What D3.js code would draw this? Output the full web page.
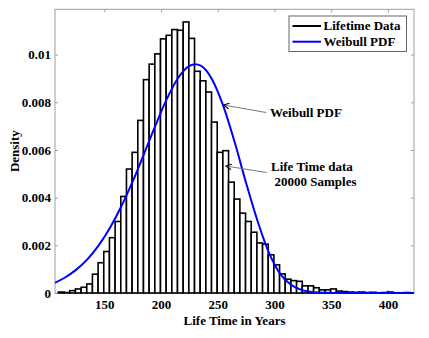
<!DOCTYPE html>
<html lang="en">

<head>
    <meta charset="utf-8">
    <script src="https://d3js.org/d3.v7.min.js"></script>
    <style>
        body { margin: 0; background: white; }
        text { font-family: "Liberation Serif", "Times New Roman", serif; font-weight: bold; }
        .tick text { font-size: 13px; fill: black; }
        .tick line { stroke: #a0a0a0; }
    </style>
</head>

<body>
    <div id="chart"></div>

    <script>
        // histogram bins (centres, width 5 years) and density of each bin
        const binCenters = [
            112, 117, 122, 127, 132, 137, 142, 147, 152, 157,
            162, 167, 172, 177, 182, 187, 192, 197, 202, 207,
            212, 217, 222, 227, 232, 237, 242, 247, 252, 257,
            262, 267, 272, 277, 282, 287, 292, 297, 302, 307,
            312, 317, 322, 327, 332, 337, 342, 347, 352, 357,
            362, 367, 372, 377, 382, 387, 392, 397, 402, 407,
            412, 417
        ];
        const densities = [
            0.00004, 0.00002, 0.00010, 0.00017, 0.00024, 0.00038, 0.00079, 0.00127, 0.00174, 0.00232,
            0.00300, 0.00405, 0.00520, 0.00590, 0.00724, 0.00895, 0.00960, 0.01003, 0.01066, 0.01081,
            0.01105, 0.01102, 0.01137, 0.01068, 0.00930, 0.00890, 0.00843, 0.00717, 0.00590, 0.00597,
            0.00465, 0.00394, 0.00335, 0.00300, 0.00255, 0.00210, 0.00205, 0.00160, 0.00118, 0.00080,
            0.00058, 0.00052, 0.00049, 0.00030, 0.00030, 0.00022, 0.00013, 0.00013, 0.00017, 0.00008,
            0.00006, 0.00004, 0.00003, 0.00004, 0.00002, 0.00003, 0.00001, 0.00002, 0.00004, 0.00001,
            0.00001, 0.00002
        ];
        const binWidth = 5;

        // Weibull PDF curve
        const weibullX = [106.5, 115, 125, 135, 145, 155, 165, 175, 185, 195, 205, 215, 225, 230, 235,
            245, 255, 265, 275, 285, 295, 305, 315, 325, 335, 345, 360, 380, 400, 423];
        const weibullY = [0.00043, 0.00064, 0.00097, 0.00141, 0.00200, 0.00274, 0.00364, 0.00468, 0.00584, 0.00702,
            0.00813, 0.00902, 0.00953, 0.00960, 0.00954, 0.00896, 0.00783, 0.00631, 0.00461, 0.00303,
            0.00170, 0.00080, 0.00033, 0.00011, 0.00003, 0.00001, 0, 0, 0, 0];

        const xTicks = [150, 200, 250, 300, 350, 400];
        const yTicks = [0, 0.002, 0.004, 0.006, 0.008, 0.01];
        const legendLabels = ["Lifetime Data", "Weibull PDF"];

        const W = 429, H = 338;
        const margin = { top: 9.3, right: 15, bottom: 45, left: 55 };
        const plotW = W - margin.left - margin.right,
            plotH = H - margin.top - margin.bottom;

        const svg = d3.select("#chart")
            .append("svg")
            .attr("width", W)
            .attr("height", H);

        const g = svg.append("g")
            .attr("transform", `translate(${margin.left},${margin.top})`);

        const x = d3.scaleLinear().domain([106.5, 423]).range([0, plotW]);
        const y = d3.scaleLinear().domain([0, 0.0119]).range([plotH, 0]);

        g.append("clipPath").attr("id", "clip")
            .append("rect").attr("width", plotW).attr("height", plotH + 2).attr("y", -1);

        // axis box
        g.append("rect")
            .attr("width", plotW)
            .attr("height", plotH)
            .attr("fill", "none")
            .attr("stroke", "#a0a0a0")
            .attr("stroke-width", 1);

        // axes, ticks pointing inward
        const fmt = d3.format("~g");
        g.append("g")
            .attr("transform", `translate(0,${plotH})`)
            .call(d3.axisBottom(x).tickValues(xTicks).tickSizeInner(-3).tickSizeOuter(0).tickPadding(7))
            .call(a => a.select(".domain").remove());
        g.append("g")
            .call(d3.axisTop(x).tickValues(xTicks).tickSizeInner(-3).tickSizeOuter(0).tickFormat(""))
            .call(a => a.select(".domain").remove());
        g.append("g")
            .call(d3.axisLeft(y).tickValues(yTicks).tickSizeInner(-3).tickSizeOuter(0).tickPadding(4).tickFormat(fmt))
            .call(a => a.select(".domain").remove());
        g.append("g")
            .attr("transform", `translate(${plotW},0)`)
            .call(d3.axisRight(y).tickValues(yTicks).tickSizeInner(-3).tickSizeOuter(0).tickFormat(""))
            .call(a => a.select(".domain").remove());

        // histogram bars
        const bins = binCenters.map((c, i) => ({ c: c, d: densities[i] }));
        g.append("g")
            .attr("clip-path", "url(#clip)")
            .selectAll("rect")
            .data(bins)
            .join("rect")
            .attr("x", d => x(d.c - binWidth / 2))
            .attr("width", d => x(d.c + binWidth / 2) - x(d.c - binWidth / 2))
            .attr("y", d => y(d.d))
            .attr("height", d => y(0) - y(d.d))
            .attr("fill", "white")
            .attr("stroke", "black")
            .attr("stroke-width", 1.6);

        // Weibull PDF line
        const pts = weibullX.map((v, i) => [v, weibullY[i]]);
        g.append("path")
            .datum(pts)
            .attr("clip-path", "url(#clip)")
            .attr("fill", "none")
            .attr("stroke", "#0000ff")
            .attr("stroke-width", 2)
            .attr("d", d3.line().x(d => x(d[0])).y(d => y(d[1])).curve(d3.curveMonotoneX));

        // axis labels
        svg.append("text")
            .attr("x", margin.left + plotW / 2)
            .attr("y", 325)
            .attr("text-anchor", "middle")
            .style("font-size", "13px")
            .text("Life Time in Years");

        svg.append("text")
            .attr("transform", `translate(18.5,${margin.top + plotH / 2}) rotate(-90)`)
            .attr("text-anchor", "middle")
            .style("font-size", "13px")
            .text("Density");

        // legend
        const legend = svg.append("g");
        legend.append("rect")
            .attr("x", 289).attr("y", 16)
            .attr("width", 117.5).attr("height", 35.5)
            .attr("fill", "white")
            .attr("stroke", "#666")
            .attr("stroke-width", 1);
        const legendColors = ["black", "#0000ff"];
        legendLabels.forEach((lab, i) => {
            const ly = 26 + i * 15.7;
            legend.append("line")
                .attr("x1", 292.5).attr("x2", 321)
                .attr("y1", ly).attr("y2", ly)
                .attr("stroke", legendColors[i])
                .attr("stroke-width", 2);
            legend.append("text")
                .attr("x", 323.5).attr("y", ly + 4.3)
                .style("font-size", "13px")
                .text(lab);
        });

        // annotations with open arrowheads at the start of each pointer line
        svg.append("defs").append("marker")
            .attr("id", "arrow")
            .attr("viewBox", "-1 -5 10 10")
            .attr("refX", 0).attr("refY", 0)
            .attr("markerWidth", 8).attr("markerHeight", 8)
            .attr("markerUnits", "userSpaceOnUse")
            .attr("orient", "auto")
            .append("path")
            .attr("d", "M7,-3.5L0,0L7,3.5")
            .attr("fill", "none")
            .attr("stroke", "black")
            .attr("stroke-width", 1.3);

        svg.append("line")
            .attr("x1", 223.5).attr("y1", 105)
            .attr("x2", 266).attr("y2", 112.5)
            .attr("stroke", "#777").attr("stroke-width", 1)
            .attr("marker-start", "url(#arrow)");
        svg.append("text")
            .attr("x", 270).attr("y", 117)
            .style("font-size", "13px")
            .text("Weibull PDF");

        svg.append("line")
            .attr("x1", 226).attr("y1", 166)
            .attr("x2", 266.5).attr("y2", 172.5)
            .attr("stroke", "#777").attr("stroke-width", 1)
            .attr("marker-start", "url(#arrow)");
        svg.append("text")
            .attr("x", 271).attr("y", 171)
            .style("font-size", "13px")
            .text("Life Time data");
        svg.append("text")
            .attr("x", 274.5).attr("y", 185.5)
            .style("font-size", "13px")
            .text("20000 Samples");
    </script>
</body>

</html>
